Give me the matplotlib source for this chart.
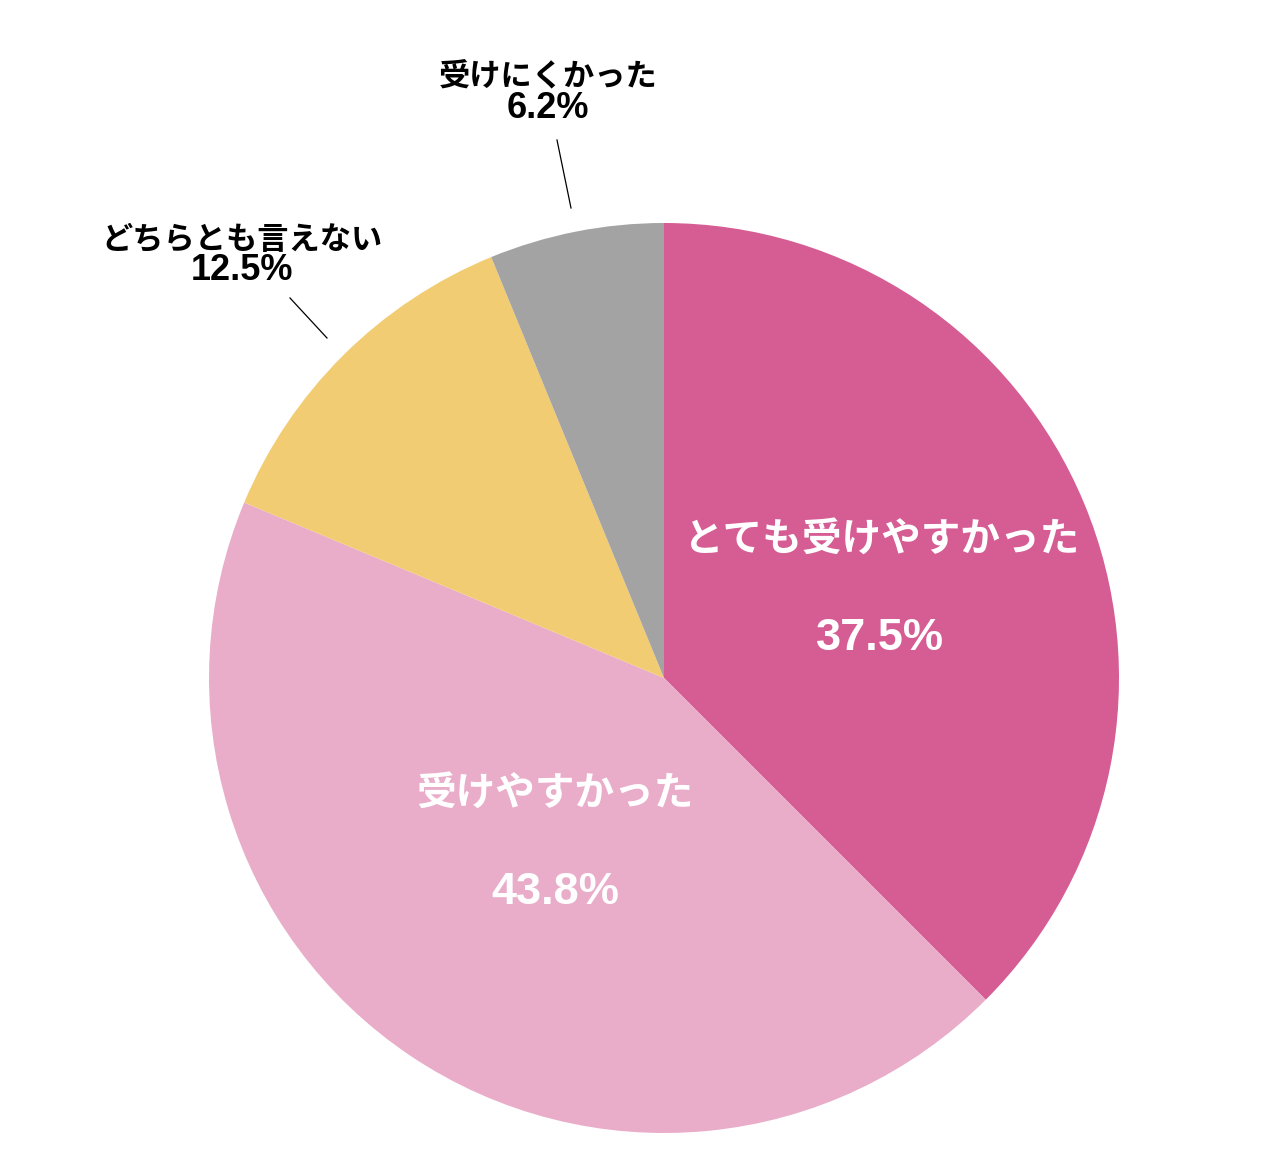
import matplotlib.pyplot as plt

plt.rcParams['font.family'] = ['Noto Sans CJK JP', 'DejaVu Sans']

labels = ["とても受けやすかった", "受けやすかった", "どちらとも言えない", "受けにくかった"]
values = [37.5, 43.8, 12.5, 6.2]
colors = ["#D65C94", "#E9ADCA", "#F2CC72", "#A3A3A3"]

fig = plt.figure(figsize=(12.76, 11.6), dpi=100)
ax = fig.add_axes([0, 0, 1, 1])

H = 1160
cx, cy, r = 664, H - 678, 455
ax.pie(values, colors=colors, startangle=90, counterclock=False,
       center=(cx, cy), radius=r, wedgeprops=dict(linewidth=0), frame=True)
ax.set_xlim(0, 1276)
ax.set_ylim(0, 1160)
ax.set_aspect("equal")
ax.axis("off")

num_font = ['Liberation Sans', 'DejaVu Sans']

# inside labels
inside = [(0, 882, 539, 880, 639), (1, 555, 793, 555, 892)]
for i, lx, ly, px, py in inside:
    ax.text(lx, H - ly, labels[i], color="white", fontsize=28.5, fontweight="bold",
            ha="center", va="center")
    ax.text(px, H - py, f"{values[i]}%", color="white", fontsize=32.5, fontweight="bold",
            ha="center", va="center", family=num_font)

# outside labels with leader lines
outside = [(3, 548, 76, 548, 109, (557, 140), (571, 208)),
           (2, 242, 240, 242, 271, (290, 298), (327, 338))]
for i, lx, ly, px, py, p0, p1 in outside:
    ax.text(lx, H - ly, labels[i], color="black", fontsize=22.5, fontweight="bold",
            ha="center", va="center")
    ax.text(px, H - py, f"{values[i]}%", color="black", fontsize=26, fontweight="bold",
            ha="center", va="center", family=num_font)
    ax.plot([p0[0], p1[0]], [H - p0[1], H - p1[1]], color="black", linewidth=0.9)

fig.savefig("out.png", dpi=100)
